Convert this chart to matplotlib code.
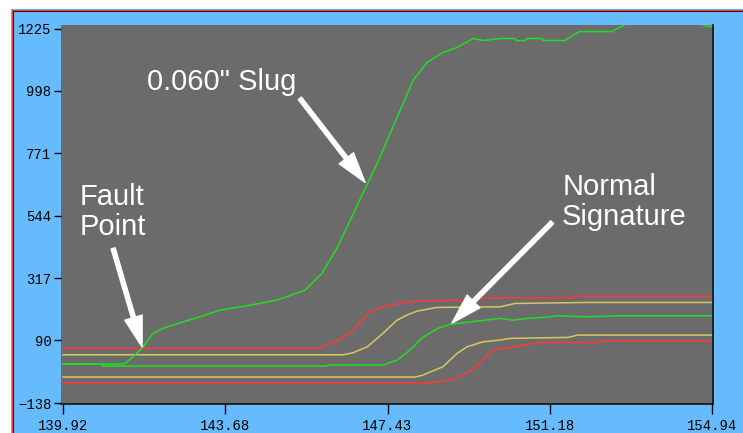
import numpy as np
import matplotlib.pyplot as plt
from matplotlib.patches import Rectangle
from matplotlib.lines import Line2D

# ---- data ----
slug_x = [139.92, 141.17, 141.36, 141.54, 141.75, 142.00, 142.23, 142.70, 143.09, 143.55,
          144.02, 144.25, 144.87, 145.52, 145.91, 146.26, 146.86, 147.19, 147.65, 148.02,
          148.34, 148.71, 149.04, 149.41, 149.64, 150.03, 150.38, 150.41, 150.61, 150.66,
          151.01, 151.03, 151.54, 151.70, 151.88, 152.63, 152.74, 152.93, 153.74, 154.71,
          154.82, 154.96]
slug_y = [3.8, 3.8, 6.3, 30.3, 60.8, 115.4, 133.5, 157.5, 175.7, 200.1,
          212.0, 218.2, 236.4, 272.8, 333.5, 425.4, 625.4, 734.4, 901.6, 1036,
          1101.5, 1138, 1156, 1188.8, 1181.5, 1188.8, 1188.8, 1181.5, 1181.5, 1188.8,
          1188.8, 1181.5, 1181.5, 1199.7, 1214, 1214, 1225, 1240, 1290, 1240,
          1233, 1233]

norm_x = [139.92, 140.82, 140.83, 146.03, 146.04, 147.33, 147.65, 147.95, 148.26, 148.59,
          148.89, 149.36, 150.03, 150.33, 150.66, 151.01, 151.38, 152.07, 152.74, 154.96]
norm_y = [3.8, 3.8, -3.5, -3.5, 0, 0, 18.3, 54.7, 103, 133.5,
          149.2, 157.5, 169.9, 163.7, 169.9, 173.5, 179.3, 175.7, 179.3, 179.3]

red_hi_x = [139.92, 145.87, 146.33, 146.64, 146.91, 147.03, 147.33, 147.79, 148.18, 149.27,
            149.73, 151.70, 151.71, 154.96]
red_hi_y = [60.8, 60.8, 93.5, 127.4, 175.7, 193.9, 212.0, 228, 233.9, 236.4,
            244.8, 244.8, 250.9, 250.9]

yel_hi_x = [139.92, 146.40, 146.63, 146.96, 147.33, 147.65, 147.88, 148.11, 148.57, 150.03,
            150.38, 152.05, 154.96]
yel_hi_y = [37.6, 37.6, 44.8, 66.7, 116.5, 163.7, 181.9, 196.4, 209.9, 212,
            224.4, 228, 228]

yel_lo_x = [139.92, 148.07, 148.25, 148.71, 149.04, 149.27, 149.64, 150.03, 150.26, 151.61,
            151.82, 154.96]
yel_lo_y = [-43.5, -43.5, -36.2, -6.1, 42.7, 66.7, 84.8, 91, 97.2, 100.8,
            109.2, 109.2]

red_lo_x = [139.92, 148.46, 148.88, 149.34, 149.64, 149.87, 150.03, 150.26, 150.50, 150.96,
            152.35, 152.42, 154.96]
red_lo_y = [-64.2, -64.2, -54.4, -24.2, 18.3, 54.7, 60, 63, 70.3, 82.6,
            82.6, 88.5, 88.5]

yticks = [-138, 90, 317, 544, 771, 998, 1225]
ytick_labels = ['\u2212138', '90', '317', '544', '771', '998', '1225']
xticks = [139.92, 143.68, 147.43, 151.18, 154.94]
xtick_labels = ['139.92', '143.68', '147.43', '151.18', '154.94']

BLUE = '#66BBFF'
GRAY = '#6B6B6B'
GREEN = '#22DD22'
RED = '#FF3838'
YELLOW = '#D8C85C'

W, H = 743, 433
fig = plt.figure(figsize=(W / 100, H / 100), dpi=100, facecolor='white')

# blue panel with red/black border
fig.add_artist(Rectangle((11 / W, 0), 1, 1 - 9 / H, transform=fig.transFigure,
                         facecolor=BLUE, edgecolor='none', zorder=0))
fig.add_artist(Line2D([11.5 / W, 11.5 / W], [0, 1 - 9.5 / H], transform=fig.transFigure, color=RED, lw=0.8))
fig.add_artist(Line2D([11.5 / W, 1], [1 - 9.5 / H, 1 - 9.5 / H], transform=fig.transFigure, color=RED, lw=0.8))
fig.add_artist(Line2D([12.5 / W, 12.5 / W], [0, 1 - 10.5 / H], transform=fig.transFigure, color='#222222', lw=0.8))
fig.add_artist(Line2D([12.5 / W, 1], [1 - 10.5 / H, 1 - 10.5 / H], transform=fig.transFigure, color='#222222', lw=0.8))

ax = fig.add_axes([61 / W, 1 - 404 / H, (713 - 61) / W, (404 - 25) / H])
ax.set_facecolor(GRAY)

lw = 1.1
ax.plot(red_hi_x, red_hi_y, color=RED, lw=lw)
ax.plot(red_lo_x, red_lo_y, color=RED, lw=lw)
ax.plot(yel_hi_x, yel_hi_y, color=YELLOW, lw=lw)
ax.plot(yel_lo_x, yel_lo_y, color=YELLOW, lw=lw)
ax.plot(norm_x, norm_y, color=GREEN, lw=lw)
ax.plot(slug_x, slug_y, color=GREEN, lw=lw)

ax.set_xlim(139.874, 154.96)
ax.set_ylim(-141.6, 1238)

for s in ['left', 'top']:
    ax.spines[s].set_visible(False)
for s in ['right', 'bottom']:
    ax.spines[s].set_color('#111111')
    ax.spines[s].set_linewidth(1.2)

ax.set_xticks(xticks)
ax.set_xticklabels(xtick_labels)
ax.set_yticks(yticks)
ax.set_yticklabels(ytick_labels)
ax.tick_params(axis='both', direction='out', length=5, width=1, color='black',
               labelsize=10, pad=2)
ax.tick_params(axis='x', length=7, pad=4)
for lab in ax.get_xticklabels() + ax.get_yticklabels():
    lab.set_fontfamily('Liberation Mono')
    lab.set_color('black')

# annotations (baseline of the last line)
txt = dict(color='white', fontsize=21, family='Liberation Sans', va='baseline', ha='left')
ax.text(141.86, 1000, '0.060" Slug', **txt)
ax.text(140.31, 473, 'Fault\nPoint', linespacing=1.1, **txt)
ax.text(151.47, 509, 'Normal\nSignature', linespacing=1.12, **txt)

arrow = dict(facecolor='white', edgecolor='white', width=3, headwidth=13, headlength=22, shrink=0)
ax.annotate('', xy=(146.91, 665), xytext=(145.40, 971), arrowprops=arrow)
ax.annotate('', xy=(141.75, 66), xytext=(141.08, 425), arrowprops=arrow)
ax.annotate('', xy=(148.92, 153), xytext=(151.24, 520), arrowprops=arrow)

plt.savefig('out.png', dpi=100, facecolor=fig.get_facecolor())
